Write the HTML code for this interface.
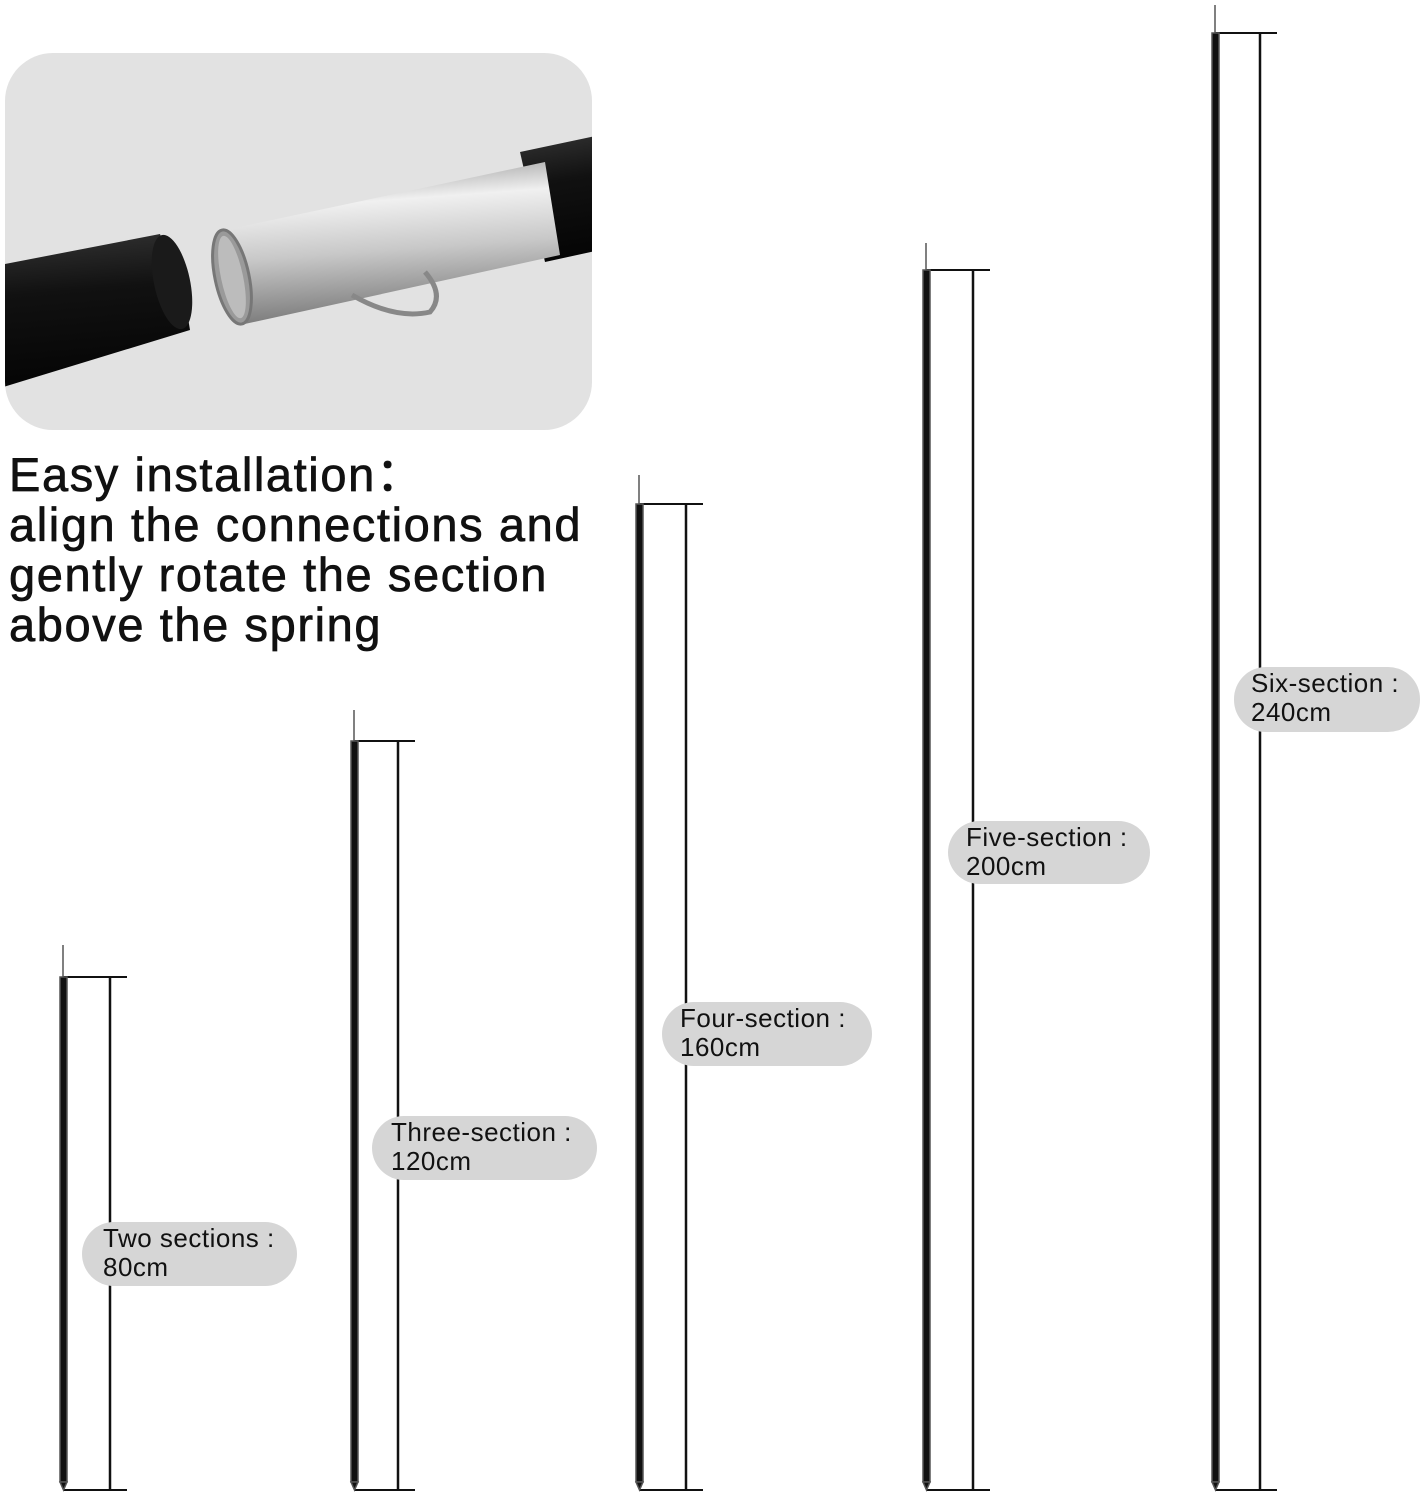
<!DOCTYPE html>
<html><head><meta charset="utf-8"><style>
html,body{margin:0;padding:0;background:#fff;}
body{width:1427px;height:1498px;position:relative;overflow:hidden;font-family:"Liberation Sans","DejaVu Sans",sans-serif;}
.t{position:absolute;left:9px;font-size:47px;color:#111;line-height:50px;top:450px;letter-spacing:1.6px;-webkit-text-stroke:0.7px #111}
.pill{position:absolute;background:#d6d6d6;border-radius:32px;font-size:26px;line-height:29px;color:#111;box-sizing:border-box;padding-top:2px;letter-spacing:0.5px}
</style></head><body>
<svg width="1427" height="1498" style="position:absolute;left:0;top:0">
<defs>
<linearGradient id="sil" x1="0" y1="0" x2="0.15" y2="1">
<stop offset="0" stop-color="#8a8a8a"/><stop offset="0.3" stop-color="#f0f0f0"/><stop offset="0.6" stop-color="#c8c8c8"/><stop offset="1" stop-color="#7a7a7a"/></linearGradient>
<linearGradient id="blk" x1="0" y1="0" x2="0.1" y2="1">
<stop offset="0" stop-color="#333"/><stop offset="0.4" stop-color="#111"/><stop offset="1" stop-color="#050505"/></linearGradient>
</defs>
<rect x="5" y="53" width="587" height="377" rx="48" fill="#e2e2e2"/>
<clipPath id="c"><rect x="5" y="53" width="587" height="377" rx="48"/></clipPath>
<g clip-path="url(#c)">
<polygon points="0,265 160,234 185,300 190,330 0,388" fill="url(#blk)"/>
<ellipse cx="172" cy="282" rx="18" ry="48" transform="rotate(-12 172 282)" fill="#1a1a1a"/>
<polygon points="520,152 600,135 600,250 545,262" fill="url(#blk)"/>
<polygon points="225,230 545,162 560,255 240,325" fill="url(#sil)"/>
<ellipse cx="232" cy="277" rx="17" ry="48" transform="rotate(-12 232 277)" fill="#9a9a9a" stroke="#777" stroke-width="3"/>
<ellipse cx="232" cy="277" rx="11" ry="42" transform="rotate(-12 232 277)" fill="#bcbcbc"/>
<path d="M352 295 Q395 320 430 312 Q445 295 425 272" fill="none" stroke="#888" stroke-width="5"/>
</g>
<g stroke="#111" stroke-width="2">
<line x1="63" y1="977" x2="127" y2="977"/><line x1="110" y1="977" x2="110" y2="1490" stroke-width="2.5"/><line x1="63" y1="1490" x2="127" y2="1490"/>
<line x1="354" y1="741" x2="415" y2="741"/><line x1="398" y1="741" x2="398" y2="1490" stroke-width="2.5"/><line x1="354" y1="1490" x2="415" y2="1490"/>
<line x1="639" y1="504" x2="703" y2="504"/><line x1="686" y1="504" x2="686" y2="1490" stroke-width="2.5"/><line x1="639" y1="1490" x2="703" y2="1490"/>
<line x1="926" y1="270" x2="990" y2="270"/><line x1="973" y1="270" x2="973" y2="1490" stroke-width="2.5"/><line x1="926" y1="1490" x2="990" y2="1490"/>
<line x1="1215" y1="33" x2="1277" y2="33"/><line x1="1260" y1="33" x2="1260" y2="1490" stroke-width="2.5"/><line x1="1215" y1="1490" x2="1277" y2="1490"/>
</g>
<g fill="#111" stroke="#555" stroke-width="1.5">
<line x1="63" y1="945" x2="63" y2="977"/><rect x="60" y="977" width="7" height="505"/><polygon points="60,1482 67,1482 63.5,1490"/>
<line x1="354" y1="710" x2="354" y2="741"/><rect x="351" y="741" width="7" height="741"/><polygon points="351,1482 358,1482 354.5,1490"/>
<line x1="639" y1="475" x2="639" y2="504"/><rect x="636" y="504" width="7" height="978"/><polygon points="636,1482 643,1482 639.5,1490"/>
<line x1="926" y1="243" x2="926" y2="270"/><rect x="923" y="270" width="7" height="1212"/><polygon points="923,1482 930,1482 926.5,1490"/>
<line x1="1215" y1="5" x2="1215" y2="33"/><rect x="1212" y="33" width="7" height="1449"/><polygon points="1212,1482 1219,1482 1215.5,1490"/>
</g>
</svg>
<div class="t">Easy installation：<br>align the connections and<br>gently rotate the section<br>above the spring</div>
<div class="pill" style="left:82px;top:1222px;width:215px;height:64px;padding-left:21px">Two sections :<br>80cm</div>
<div class="pill" style="left:372px;top:1116px;width:225px;height:64px;padding-left:19px">Three-section :<br>120cm</div>
<div class="pill" style="left:662px;top:1002px;width:210px;height:64px;padding-left:18px">Four-section :<br>160cm</div>
<div class="pill" style="left:948px;top:821px;width:202px;height:63px;padding-left:18px">Five-section :<br>200cm</div>
<div class="pill" style="left:1234px;top:667px;width:186px;height:65px;padding-left:17px">Six-section :<br>240cm</div>
</body></html>
